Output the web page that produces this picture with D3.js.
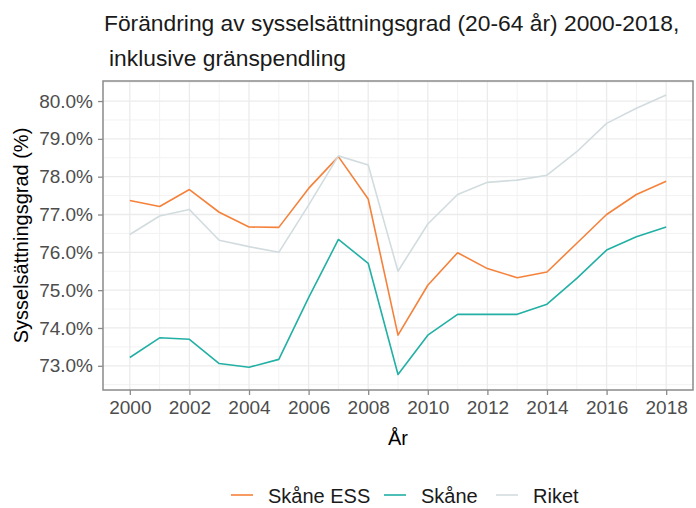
<!DOCTYPE html>
<html>
<head>
<meta charset="utf-8">
<script src="https://cdn.jsdelivr.net/npm/d3@7"></script>
<style>
  body { margin: 0; background: #fff; }
  svg { display: block; font-family: "Liberation Sans", Arial, sans-serif; }
</style>
</head>
<body>
<div id="chart"></div>
<script>
// data
const years = [2000, 2001, 2002, 2003, 2004, 2005, 2006, 2007, 2008, 2009,
               2010, 2011, 2012, 2013, 2014, 2015, 2016, 2017, 2018];
const skaneESS = [77.37, 77.21, 77.66, 77.06, 76.67, 76.66, 77.69, 78.53, 77.41, 73.81,
                  75.13, 75.99, 75.57, 75.33, 75.48, 76.24, 77.00, 77.53, 77.88];
const skane = [73.22, 73.74, 73.70, 73.06, 72.96, 73.17, 74.80, 76.34, 75.71, 72.77,
               73.81, 74.36, 74.36, 74.36, 74.63, 75.31, 76.06, 76.41, 76.67];
const riket = [76.47, 76.96, 77.13, 76.32, 76.15, 76.00, 77.25, 78.55, 78.31, 75.50,
               76.75, 77.53, 77.85, 77.91, 78.04, 78.66, 79.41, 79.81, 80.16];
const seriesNames = ["Skåne ESS", "Skåne", "Riket"];
const seriesColors = ["#F5823B", "#22B0A5", "#D2DCDF"];
const xTicks = [2000, 2002, 2004, 2006, 2008, 2010, 2012, 2014, 2016, 2018];
const yTicks = [73, 74, 75, 76, 77, 78, 79, 80];

const width = 696, height = 508;
const margins = {left: 103, right: 3, top: 81, bottom: 118};
const w = width - margins.left - margins.right;
const h = height - margins.top - margins.bottom;

const svg = d3.select("#chart").append("svg")
    .attr("width", width)
    .attr("height", height);

// title
svg.append("text")
    .attr("x", 104).attr("y", 31)
    .style("font-size", "22.8px").attr("fill", "#1a1a1a")
    .text("Förändring av sysselsättningsgrad (20-64 år) 2000-2018,");
svg.append("text")
    .attr("x", 109).attr("y", 66)
    .style("font-size", "22.8px").attr("fill", "#1a1a1a")
    .text("inklusive gränspendling");

const g = svg.append("g")
    .attr("transform", "translate(" + margins.left + "," + margins.top + ")");

const x = d3.scaleLinear().domain([1999.1, 2018.9]).range([0, w]);
const y = d3.scaleLinear().domain([72.36, 80.53]).range([h, 0]);

// minor grid
const xMinor = d3.range(1999, 2020, 2).filter(v => v > 1999.1 && v < 2018.9);
const yMinor = d3.range(72.5, 81, 1).filter(v => v > 72.36 && v < 80.53);
g.selectAll(".xminor").data(xMinor).enter().append("line")
    .attr("x1", d => x(d)).attr("x2", d => x(d)).attr("y1", 0).attr("y2", h)
    .attr("stroke", "#F2F2F2").attr("stroke-width", 1);
g.selectAll(".yminor").data(yMinor).enter().append("line")
    .attr("x1", 0).attr("x2", w).attr("y1", d => y(d)).attr("y2", d => y(d))
    .attr("stroke", "#F2F2F2").attr("stroke-width", 1);
// major grid
g.selectAll(".xmajor").data(xTicks).enter().append("line")
    .attr("x1", d => x(d)).attr("x2", d => x(d)).attr("y1", 0).attr("y2", h)
    .attr("stroke", "#EBEBEB").attr("stroke-width", 1.3);
g.selectAll(".ymajor").data(yTicks).enter().append("line")
    .attr("x1", 0).attr("x2", w).attr("y1", d => y(d)).attr("y2", d => y(d))
    .attr("stroke", "#EBEBEB").attr("stroke-width", 1.3);

// lines
const seriesData = [skaneESS, skane, riket];
const line = d3.line()
    .x((d, i) => x(years[i]))
    .y(d => y(d));
g.selectAll(".series").data(seriesData).enter().append("path")
    .attr("class", "series")
    .attr("d", d => line(d))
    .attr("fill", "none")
    .attr("stroke", (d, i) => seriesColors[i])
    .attr("stroke-width", 1.6)
    .attr("stroke-linejoin", "round");

// panel border
g.append("rect")
    .attr("x", 0).attr("y", 0).attr("width", w).attr("height", h)
    .attr("fill", "none").attr("stroke", "#8A8A8A").attr("stroke-width", 1.5);

// axes
const xAxis = g.append("g")
    .attr("transform", "translate(0," + h + ")")
    .call(d3.axisBottom(x).tickValues(xTicks).tickFormat(d3.format("d")).tickSize(5).tickPadding(6));
const yAxis = g.append("g")
    .call(d3.axisLeft(y).tickValues(yTicks).tickFormat(d => d3.format(".1f")(d) + "%").tickSize(5).tickPadding(5));
[xAxis, yAxis].forEach(a => {
  a.select(".domain").remove();
  a.selectAll(".tick line").attr("stroke", "#8A8A8A").attr("stroke-width", 1.3);
  a.selectAll(".tick text").attr("fill", "#4D4D4D")
      .style("font-size", "19px").style("font-family", "'Liberation Sans', Arial, sans-serif");
});

// axis titles
svg.append("text")
    .attr("x", margins.left + w / 2).attr("y", 445)
    .attr("text-anchor", "middle")
    .style("font-size", "20px").attr("fill", "#000")
    .text("År");
svg.append("text")
    .attr("transform", "translate(28," + (margins.top + h / 2) + ") rotate(-90)")
    .attr("text-anchor", "middle")
    .style("font-size", "20px").attr("fill", "#000")
    .text("Sysselsättningsgrad (%)");

// legend
const legendX = [231, 384, 496];
const leg = svg.selectAll(".legend").data(seriesNames).enter().append("g")
    .attr("transform", (d, i) => "translate(" + legendX[i] + ",495)");
leg.append("line")
    .attr("x1", 0).attr("x2", 22).attr("y1", 0).attr("y2", 0)
    .attr("stroke", (d, i) => seriesColors[i]).attr("stroke-width", 1.6);
leg.append("text")
    .attr("x", 37).attr("y", 7.5)
    .style("font-size", "20px").attr("fill", "#1a1a1a")
    .text(d => d);
</script>
</body>
</html>
